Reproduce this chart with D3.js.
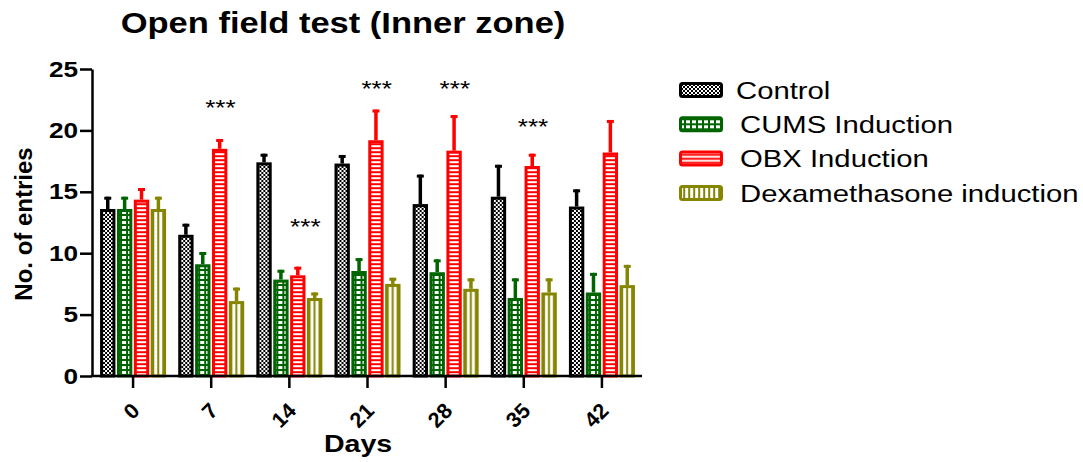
<!DOCTYPE html>
<html>
<head>
<meta charset="utf-8">
<script src="https://cdn.jsdelivr.net/npm/d3@7"></script>
<style>
  body { margin: 0; background: #fff; }
  svg { display: block; font-family: "Liberation Sans", Arial, sans-serif; }
</style>
</head>
<body>
<svg id="chart" width="1083" height="462"></svg>
<script>
// values (mean and upper error)
const days = ["0", "7", "14", "21", "28", "35", "42"];
const seriesNames = ["Control", "CUMS Induction", "OBX Induction", "Dexamethasone induction"];
const control    = [13.6, 11.5, 17.4, 17.3, 14.0, 14.6, 13.8];
const controlErr = [1.0, 0.9, 0.7, 0.7, 2.4, 2.6, 1.4];
const cums       = [13.6, 9.1, 7.85, 8.55, 8.45, 6.35, 6.8];
const cumsErr    = [1.0, 1.0, 0.8, 1.05, 1.05, 1.6, 1.6];
const obx        = [14.36, 18.5, 8.2, 19.2, 18.35, 17.1, 18.2];
const obxErr     = [0.95, 0.8, 0.7, 2.5, 2.9, 1.0, 2.65];
const dexa       = [13.6, 6.1, 6.35, 7.5, 7.1, 6.8, 7.4];
const dexaErr    = [1.0, 1.1, 0.45, 0.5, 0.85, 1.15, 1.65];
const yTicks = [0, 5, 10, 15, 20, 25];
// significance marks: day, bar slot, height in data units
const stars = [
  {day: "7", slot: 2, v: 22.3},
  {day: "14", slot: 2.4, v: 12.6},
  {day: "21", slot: 2, v: 23.9},
  {day: "28", slot: 2, v: 23.9},
  {day: "35", slot: 2, v: 20.75}
];

const means = [control, cums, obx, dexa];
const errs = [controlErr, cumsErr, obxErr, dexaErr];
const colors = ["#000000", "#006400", "#ff0000", "#858500"];
const patIds = ["pat-control", "pat-cums", "pat-obx", "pat-dexa"];
const SX = 1.19; // the original is stretched sideways

const svg = d3.select("#chart");

// fill patterns
const defs = svg.append("defs");
let p = defs.append("pattern").attr("id", "pat-control").attr("patternUnits", "userSpaceOnUse")
  .attr("width", 4).attr("height", 4);
p.append("rect").attr("width", 4).attr("height", 4).attr("fill", "#fff");
p.append("rect").attr("width", 2).attr("height", 2).attr("fill", "#000");
p.append("rect").attr("x", 2).attr("y", 2).attr("width", 2).attr("height", 2).attr("fill", "#000");

p = defs.append("pattern").attr("id", "pat-cums").attr("patternUnits", "userSpaceOnUse")
  .attr("width", 6).attr("height", 5);
p.append("rect").attr("width", 6).attr("height", 5).attr("fill", colors[1]);
p.append("rect").attr("x", 1).attr("y", 1).attr("width", 4).attr("height", 3).attr("fill", "#fff");

p = defs.append("pattern").attr("id", "pat-obx").attr("patternUnits", "userSpaceOnUse")
  .attr("width", 4).attr("height", 4);
p.append("rect").attr("width", 4).attr("height", 4).attr("fill", colors[2]);
p.append("rect").attr("y", 1.2).attr("width", 4).attr("height", 2).attr("fill", "#fff");

p = defs.append("pattern").attr("id", "pat-dexa").attr("patternUnits", "userSpaceOnUse")
  .attr("width", 5).attr("height", 4);
p.append("rect").attr("width", 5).attr("height", 4).attr("fill", colors[3]);
p.append("rect").attr("x", 1.2).attr("width", 3).attr("height", 4).attr("fill", "#fff");

// scales
const y = d3.scaleLinear().domain([0, 25]).range([376, 69]);
const x0 = d3.scaleBand().domain(days).range([94, 641]);
const x1 = d3.scaleBand().domain(d3.range(4)).range([-33, 33]).paddingInner(0.09);
const cx = d => x0(d) + x0.bandwidth() / 2;

// title
svg.append("text")
  .attr("transform", `translate(343,33) scale(${SX},1)`)
  .attr("text-anchor", "middle")
  .attr("font-size", 29).attr("font-weight", "bold")
  .text("Open field test (Inner zone)");

// bars
const groups = svg.append("g").selectAll("g")
  .data(days).join("g")
  .attr("transform", d => `translate(${cx(d)},0)`);

groups.each(function(d, di) {
  const g = d3.select(this);
  means.forEach((vals, si) => {
    const bx = x1(si), bw = x1.bandwidth();
    const v = vals[di], e = errs[si][di];
    const mid = bx + bw / 2;
    // error bar (upper half only)
    g.append("line")
      .attr("x1", mid).attr("x2", mid)
      .attr("y1", y(v)).attr("y2", y(v + e))
      .attr("stroke", colors[si]).attr("stroke-width", 3.5);
    g.append("line")
      .attr("x1", mid - 3.5).attr("x2", mid + 3.5)
      .attr("y1", y(v + e) + 1.5).attr("y2", y(v + e) + 1.5)
      .attr("stroke", colors[si]).attr("stroke-width", 3);
    g.append("rect")
      .attr("x", bx + 1.5).attr("width", bw - 3)
      .attr("y", y(v) + 1.5).attr("height", y(0) - y(v) - 1.5)
      .attr("fill", `url(#${patIds[si]})`)
      .attr("stroke", colors[si]).attr("stroke-width", 3);
  });
});

// axes
const yAxis = svg.append("g")
  .attr("transform", "translate(92,0)")
  .call(d3.axisLeft(y).tickValues(yTicks).tickSize(12).tickPadding(3).tickSizeOuter(0));
yAxis.select(".domain").attr("stroke-width", 2.5);
yAxis.selectAll(".tick line").attr("stroke-width", 2.5);
yAxis.selectAll("text")
  .attr("x", -14 / SX)
  .attr("transform", `scale(${SX},1)`)
  .attr("font-size", 22).attr("font-weight", "bold")
  .attr("font-family", "Liberation Sans, Arial, sans-serif")
  .attr("fill", "#000");

const xAxis = svg.append("g").attr("transform", "translate(0,376)");
xAxis.append("line").attr("x1", 91).attr("x2", 642)
  .attr("stroke", "#000").attr("stroke-width", 2.5);
xAxis.selectAll(".xt").data(days).join("line")
  .attr("class", "xt")
  .attr("x1", d => cx(d)).attr("x2", d => cx(d))
  .attr("y1", 0).attr("y2", 12)
  .attr("stroke", "#000").attr("stroke-width", 2.5);
xAxis.selectAll(".xl").data(days).join("text")
  .attr("class", "xl")
  .attr("transform", d => `translate(${cx(d) + 8},36) rotate(-45)`)
  .attr("text-anchor", "end")
  .attr("font-size", 21.5).attr("font-weight", "bold")
  .text(d => d);

svg.append("text")
  .attr("transform", `translate(358,452) scale(${SX},1)`)
  .attr("text-anchor", "middle")
  .attr("font-size", 24).attr("font-weight", "bold")
  .text("Days");

svg.append("text")
  .attr("transform", "translate(32,224) rotate(-90)")
  .attr("text-anchor", "middle")
  .attr("font-size", 24).attr("font-weight", "bold")
  .text("No. of entries");

// significance stars
svg.selectAll(".star").data(stars).join("text")
  .attr("class", "star")
  .attr("transform", s => `translate(${cx(s.day) + x1(0) + (s.slot + 0.5) * x1.step()},${y(s.v) + 13}) scale(${SX},1)`)
  .attr("text-anchor", "middle")
  .attr("font-size", 22)
  .text("***");

// legend
const legend = svg.append("g").selectAll("g")
  .data(seriesNames).join("g")
  .attr("transform", (d, i) => `translate(679,${90 + i * 34.3})`);
legend.append("rect")
  .attr("x", 1.5).attr("y", -6.5).attr("width", 41).attr("height", 13).attr("rx", 2)
  .attr("fill", (d, i) => `url(#${patIds[i]})`)
  .attr("stroke", (d, i) => colors[i]).attr("stroke-width", 3);
legend.append("text")
  .attr("transform", (d, i) => `translate(${i === 0 ? 57 : 61},0) scale(1.22,1)`)
  .attr("dy", "0.36em")
  .attr("font-size", 24)
  .text(d => d);
</script>
</body>
</html>
